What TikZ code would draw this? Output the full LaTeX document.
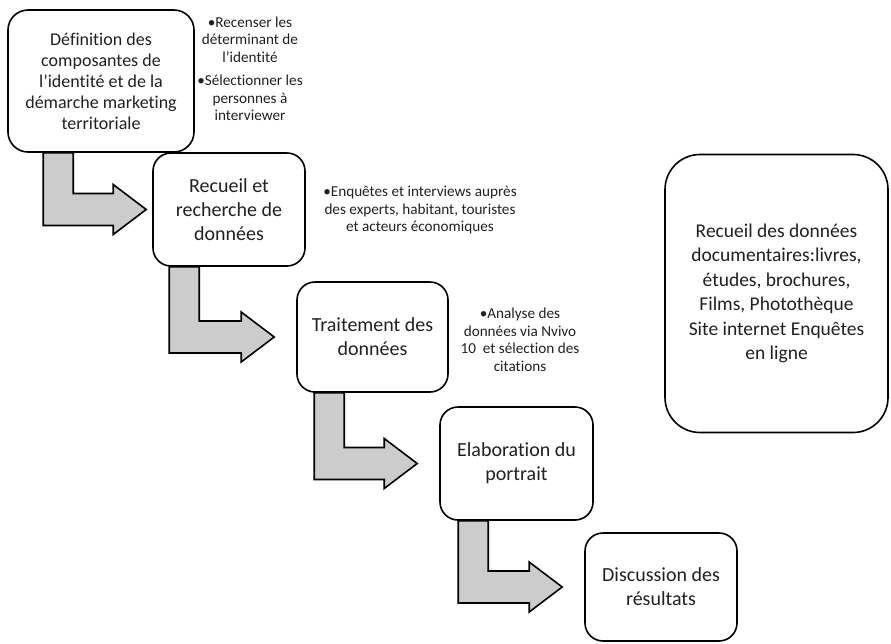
\documentclass[tikz,border=0pt]{standalone}
\usepackage{fontspec}
\setmainfont{Carlito}[Ligatures=NoCommon]
\usetikzlibrary{calc}
\definecolor{grisfleche}{gray}{0.8}
\definecolor{texte}{gray}{0.13}
% fleche en L : de #1 (bas) vers #2 (gauche), decalage #3, ecart #4
\newcommand{\fleche}[4]{
  \draw[fleche] let \p1 = (#1.south west), \p2 = (#2.west) in
    (\x1+#3pt,\y1) -- (\x1+#3pt,\y2-16pt) -- (\x2-#4pt-33pt,\y2-16pt)
    -- (\x2-#4pt-33pt,\y2-25pt) -- (\x2-#4pt,\y2) -- (\x2-#4pt-33pt,\y2+25pt)
    -- (\x2-#4pt-33pt,\y2+16pt) -- (\x1+#3pt+30pt,\y2+16pt) -- (\x1+#3pt+30pt,\y1) -- cycle;
}
\tikzset{
  etape/.style={draw, rounded corners=18pt, line width=1.6pt, fill=white, align=center,
    text=texte, inner sep=0pt, font=\fontsize{20}{24}\selectfont},
  note/.style={align=center, text=texte, inner sep=0pt, font=\fontsize{15.2}{17.5}\selectfont},
  fleche/.style={draw, line width=1.6pt, fill=grisfleche, line join=miter}
}

\begin{document}
\begin{tikzpicture}[x=1pt,y=-1pt]
    \useasboundingbox (0,0) rectangle (891,643);
    \coordinate (a) at (101,81);
    \coordinate (b) at (229,209.5);
    \coordinate (c) at (372.5,337);
    \coordinate (d) at (516.5,463.5);
    \coordinate (e) at (661,587);
    \coordinate (f) at (776.5,293.5);

    \node[etape, rounded corners=20pt, minimum width=186pt, minimum height=142pt,
      font=\fontsize{18}{21}\selectfont] (definition) at (a)
      {Définition des\\composantes de\\l’identité et de la\\démarche marketing\\territoriale};
    \node[etape, minimum width=152pt, minimum height=113pt] (recueil) at (b) {Recueil et\\recherche de\\données};
    \node[etape, minimum width=151pt, minimum height=110pt] (traitement) at (c) {Traitement des\\données};
    \node[etape, minimum width=153pt, minimum height=113pt] (portrait) at (d) {Elaboration du\\portrait};
    \node[etape, minimum width=152pt, minimum height=108pt] (discussion) at (e) {Discussion des\\résultats};
    \node[etape, rounded corners=35pt, minimum width=223pt, minimum height=278pt,
      font=\fontsize{19.5}{24.5}\selectfont] (documents) at (f)
      {Recueil des données\\documentaires:livres,\\études, brochures,\\Films, Photothèque\\Site internet Enquêtes\\en ligne};

    \node[note] (noteA) at (250,69) {•Recenser les\\déterminant de\\l’identité\\[6pt]•Sélectionner les\\personnes à\\interviewer};
    \node[note] (noteB) at (420,210) {•Enquêtes et interviews auprès\\des experts, habitant, touristes\\et acteurs économiques};
    \node[note] (noteC) at (520,340) {•Analyse des\\données via Nvivo\\10~ et sélection des\\citations};

    \fleche{definition}{recueil}{36}{6}
    \fleche{recueil}{traitement}{17}{22}
    \fleche{traitement}{portrait}{18}{22}
    \fleche{portrait}{discussion}{19}{22}
  \end{tikzpicture}
\end{document}
